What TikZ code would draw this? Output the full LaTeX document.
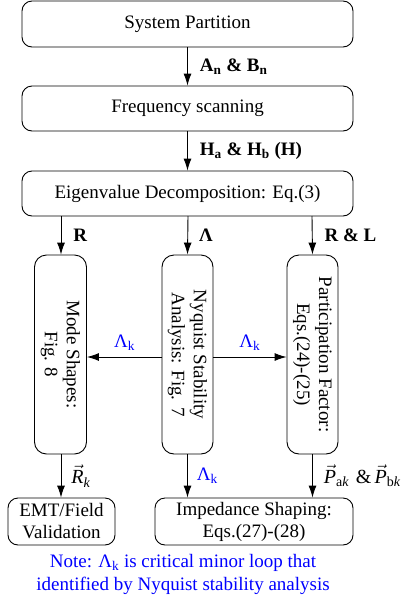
\documentclass[tikz,border=0pt]{standalone}
\usepackage{fontspec}
\setmainfont{Liberation Serif}
\usetikzlibrary{arrows.meta}
\begin{document}
\begin{tikzpicture}[x=1pt,y=-1pt,
  box/.style={draw,line width=0.9pt,rounded corners=10pt,inner sep=0pt,align=center,font=\fontsize{19}{22}\selectfont},
  vbox/.style={box,rounded corners=12pt},
  arr/.style={line width=0.9pt,-{Latex[length=12pt,width=8pt]}},
  lbl/.style={font=\fontsize{19}{22}\selectfont\bfseries,anchor=west,inner sep=0pt},
  blbl/.style={font=\fontsize{19}{22}\selectfont,text=blue,inner sep=0pt},
  mlbl/.style={anchor=west,inner sep=0pt,font=\fontsize{20}{22}\selectfont}
]
\useasboundingbox (0,0) rectangle (407,603);
\node[box,minimum width=331pt,minimum height=46pt] (sp) at (187.5,24) {System Partition};
\node[box,minimum width=331pt,minimum height=45pt] (fs) at (187.5,108.5) {Frequency scanning};
\node[box,minimum width=331pt,minimum height=45pt] (ed) at (187.5,193.5) {Eigenvalue Decomposition: Eq.(3)};
\node[vbox,minimum width=199pt,minimum height=52pt,rotate=-90] (ms) at (60.5,354.5) {Mode Shapes:\\Fig. 8};
\node[vbox,minimum width=199pt,minimum height=51pt,rotate=-90] (ny) at (187.5,354.5) {Nyquist Stability\\Analysis: Fig. 7};
\node[vbox,minimum width=199pt,minimum height=51pt,rotate=-90] (pf) at (312.5,354.5) {Participation Factor:\\Eqs.(24)-(25)};
\node[box,minimum width=107pt,minimum height=47pt] (emt) at (61.5,521.5) {EMT/Field\\Validation};
\node[box,minimum width=198pt,minimum height=47pt] (is) at (254,521.5) {Impedance Shaping:\\Eqs.(27)-(28)};
\coordinate (ed1) at (61,216);
\coordinate (ed2) at (188,216);
\coordinate (ed3) at (312,216);
\draw[arr] (sp.south) -- (fs.north) node[midway,lbl,xshift=12pt] {A\textsubscript{n} \& B\textsubscript{n}};
\draw[arr] (fs.south) -- (ed.north) node[midway,lbl,xshift=12pt] {H\textsubscript{a} \& H\textsubscript{b} (H)};
\draw[arr] (ed1) -- (ed1 |- ms.west) node[midway,lbl,xshift=12pt] {R};
\draw[arr] (ed2) -- (ny.west) node[midway,lbl,xshift=11pt] {Λ};
\draw[arr] (ed3) -- (pf.west) node[midway,lbl,xshift=12pt] {R \& L};
\coordinate (nyl) at (162,357);
\coordinate (nyr) at (213,357);
\draw[arr] (nyl) -- (nyl -| ms.north) node[midway,blbl,above=6pt] {Λ\textsubscript{k}};
\draw[arr] (nyr) -- (nyr -| pf.south) node[midway,blbl,above=6pt] {Λ\textsubscript{k}};
\draw[arr] (ms.east -| ed1) -- (ed1 |- emt.north) node[midway,mlbl,xshift=10pt] {$\vec{\mathit{R}}_{\mathit{k}}$};
\draw[arr] (ny.east) -- (ny.east |- is.north) node[midway,blbl,anchor=west,xshift=9pt] {Λ\textsubscript{k}};
\draw[arr] (pf.east) -- (pf.east |- is.north) node[midway,mlbl,xshift=11pt] {$\vec{\mathit{P}}_{\mathrm{a}\mathit{k}}$\,\,\&\,$\vec{\mathit{P}}_{\mathrm{b}\mathit{k}}$};
\node[font=\fontsize{19}{23}\selectfont,text=blue,align=center,inner sep=0pt] (note) at (183,574) {Note: Λ\textsubscript{k} is critical minor loop that\\identified by Nyquist stability analysis};
\end{tikzpicture}
\end{document}
